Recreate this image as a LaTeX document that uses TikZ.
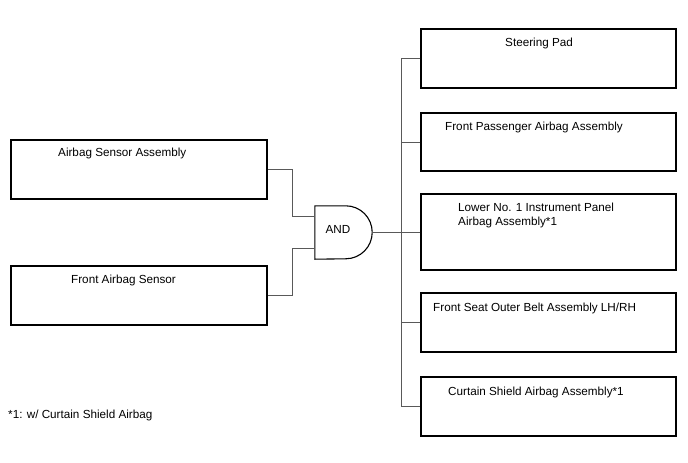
\documentclass[tikz,border=0pt]{standalone}
\usepackage{fontspec}
\setmainfont{Liberation Sans}
\usetikzlibrary{positioning, calc}
\tikzset{
    partbox/.style={rectangle, draw=black, line width=1.1pt, minimum width=256pt, minimum height=59pt, inner sep=0pt},
    parttext/.style={font=\fontsize{11.7}{14}\selectfont, inner sep=0pt, anchor=west, align=left},
    wire/.style={draw=black!65, line width=0.9pt},
    gatebody/.style={draw=black, line width=1.1pt}
}

\begin{document}
\begin{tikzpicture}[x=1pt, y=-1pt]
    \useasboundingbox (0,0) rectangle (688,463);

    % Sensors
    \node[partbox] (asa) at (139,169.5) {};
    \node[partbox] (fas) at (139,295.5) {};
    \node[parttext] (asaT) at (58,153.5) {Airbag Sensor Assembly};
    \node[parttext] (fasT) at (71,280.5) {Front Airbag Sensor};

    % Airbags
    \node[partbox, minimum width=255pt] (sp) at (548.5,58.5) {};
    \node[partbox, minimum width=255pt, minimum height=58pt] (fpa) at (548.5,142) {};
    \node[partbox, minimum width=255pt, minimum height=76pt] (lip) at (548.5,232) {};
    \node[partbox, minimum width=255pt] (fso) at (548.5,322.5) {};
    \node[partbox, minimum width=255pt] (csa) at (548.5,406.5) {};
    \node[parttext] (spT) at (505,43.5) {Steering Pad};
    \node[parttext] (fpaT) at (445,127.5) {Front Passenger Airbag Assembly};
    \node[parttext] (lipT) at (458,215) {Lower No. 1 Instrument Panel\\Airbag Assembly*1};
    \node[parttext] (fsoT) at (433,308) {Front Seat Outer Belt Assembly LH/RH};
    \node[parttext] (csaT) at (448,392) {Curtain Shield Airbag Assembly*1};

    % AND gate
    \node[minimum width=30.5pt, minimum height=53pt, inner sep=0pt] (gate) at (330.25,232.5) {};
    \draw[gatebody] (gate.south west) -- (gate.north west) -- (gate.north east)
        arc[start angle=-90, end angle=90, radius=26.5] -- cycle;
    \node[parttext, anchor=center] (gateT) at (338,229) {AND};
    \coordinate (in1) at ($(gate.west)+(0,-16.5)$);
    \coordinate (in2) at ($(gate.west)+(0,15.5)$);
    \coordinate (out) at ($(gate.east)+(26.5,0)$);
    \coordinate (jl) at (292,0);
    \coordinate (bus) at (401,232.5);

    % Inputs
    \draw[wire] (asa.east) -- (asa.east -| jl) |- (in1);
    \draw[wire] (fas.east) -- (fas.east -| jl) |- (in2);

    % Outputs
    \draw[wire] (out) -- (bus);
    \draw[wire] (sp.west) -- (sp.west -| bus) -- (csa.west -| bus) -- (csa.west);
    \draw[wire] (fpa.west) -- (fpa.west -| bus);
    \draw[wire] (lip.west) -- (lip.west -| bus);
    \draw[wire] (fso.west) -- (fso.west -| bus);

    % Note
    \node[parttext] (note) at (8,415) {*1: w/ Curtain Shield Airbag};
\end{tikzpicture}
\end{document}
